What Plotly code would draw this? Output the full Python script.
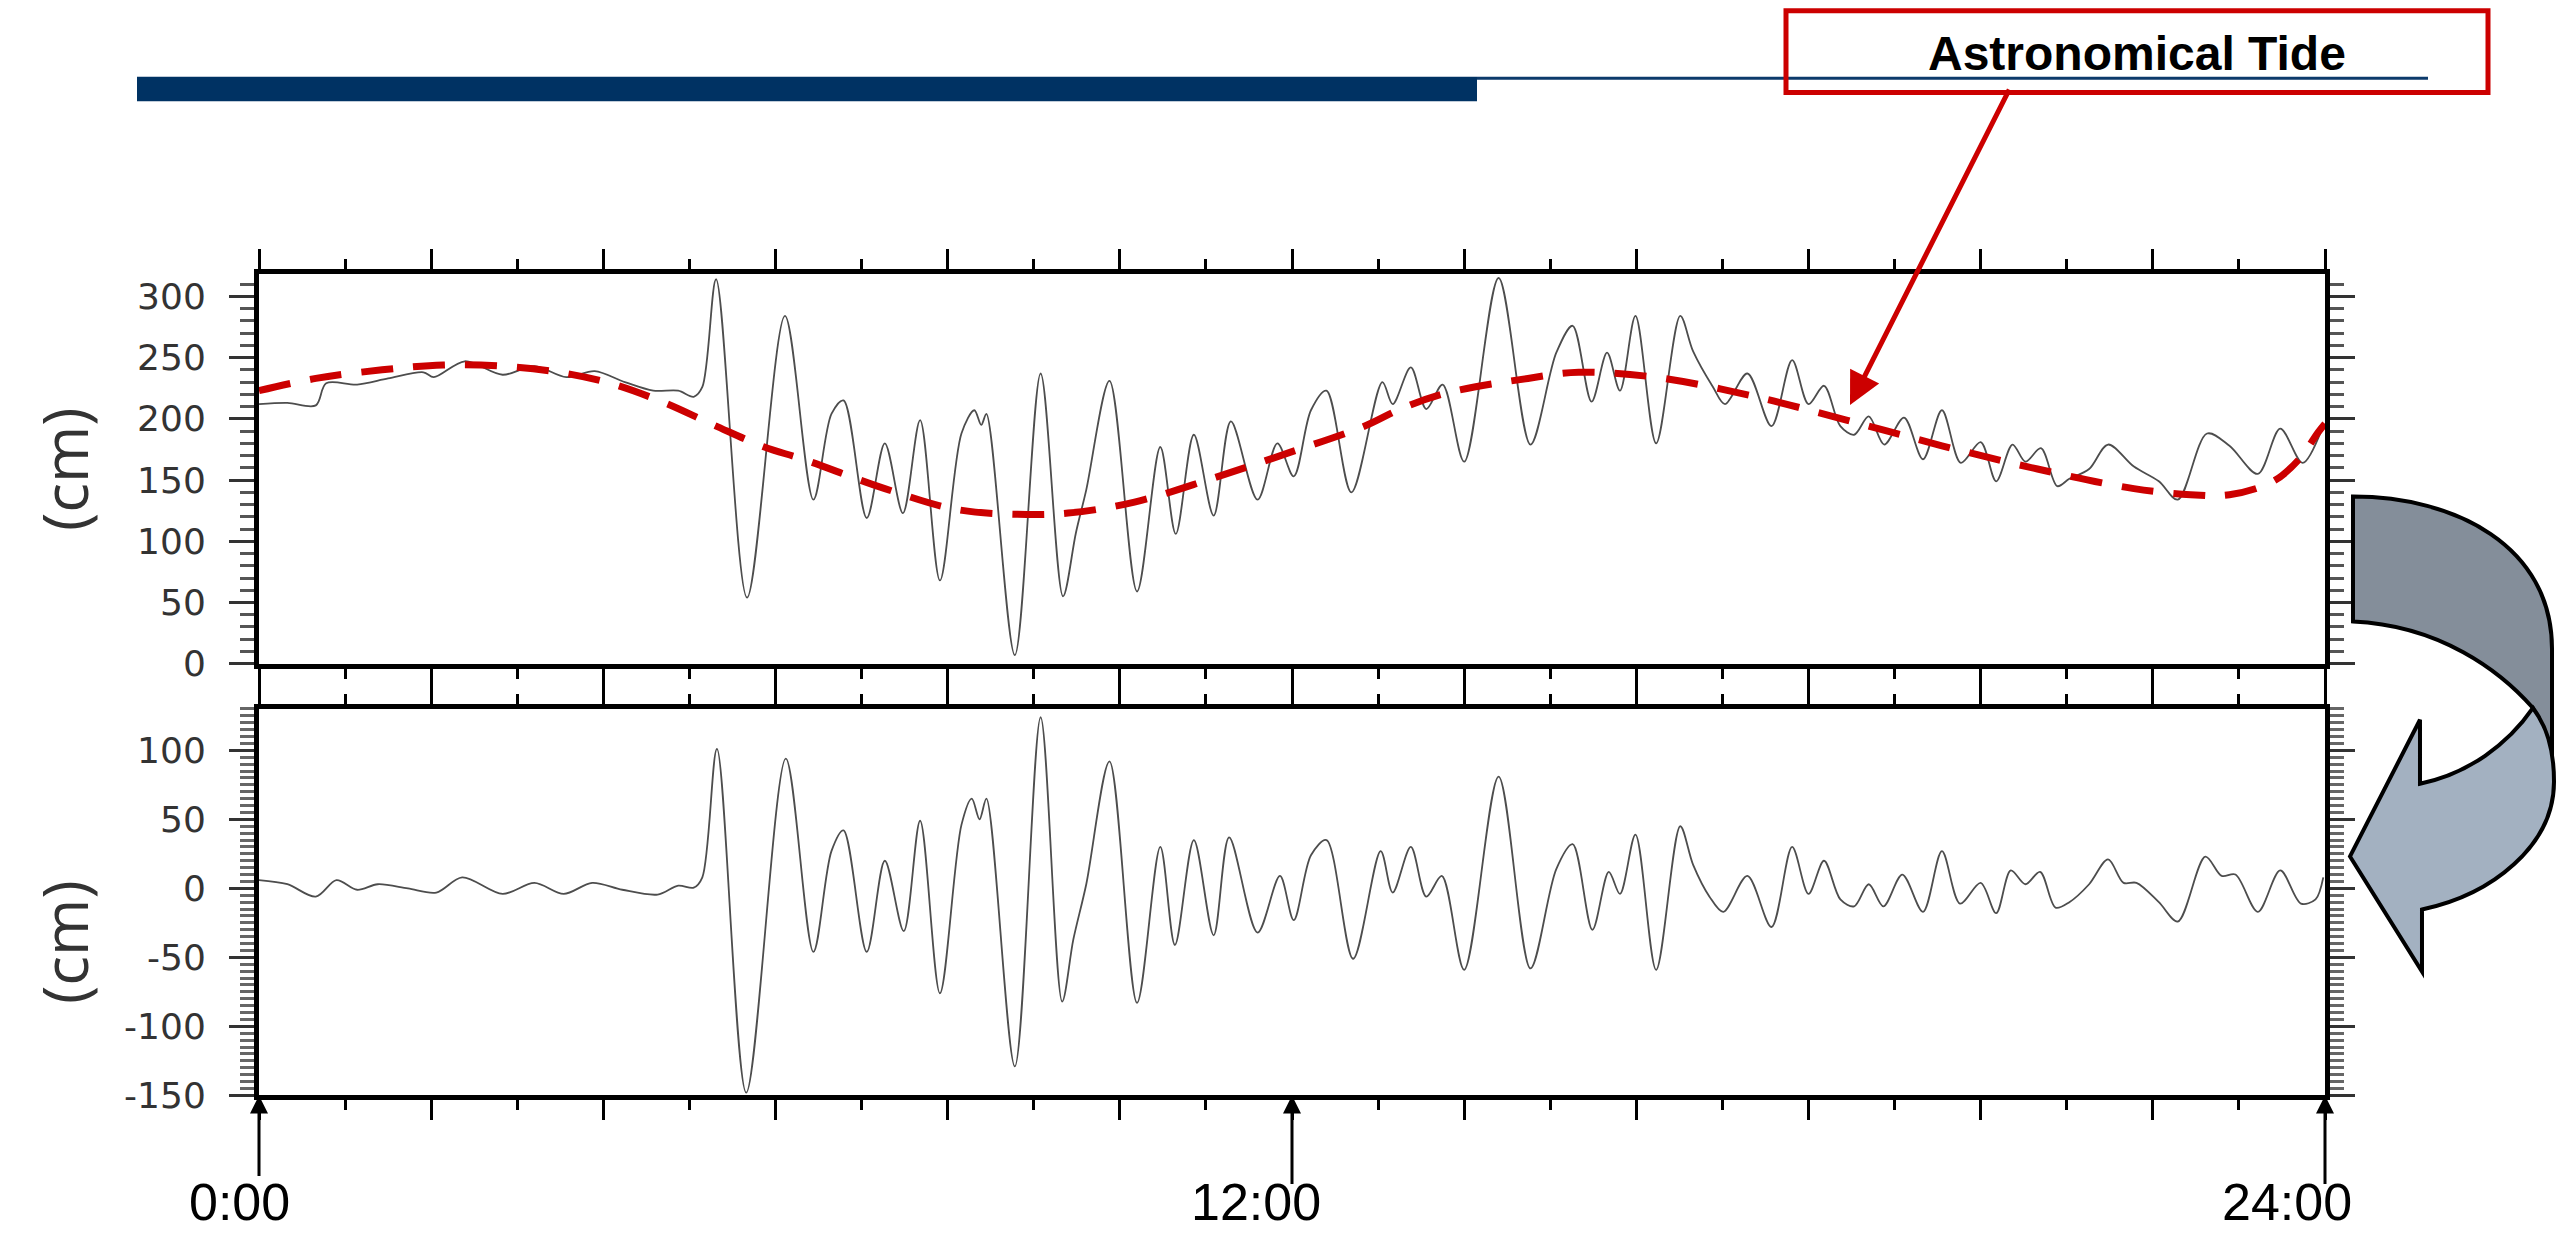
import plotly.graph_objects as go

W, H = 2567, 1257

# ---------------- data (hours since 0:00, cm) ----------------
obs_t = [0.0, 0.33, 0.66, 0.78, 1.14, 1.5, 1.91, 2.03, 2.39, 2.83, 3.2, 3.57, 3.9, 4.25, 4.58, 4.87,
         5.05, 5.15, 5.31, 5.67, 6.11, 6.44, 6.65, 6.79, 7.06, 7.27, 7.48, 7.68, 7.91, 8.16, 8.31,
         8.39, 8.45, 8.78, 9.08, 9.34, 9.49, 9.61, 9.88, 10.2, 10.47, 10.65, 10.86, 11.09, 11.29,
         11.6, 11.83, 12.02, 12.22, 12.4, 12.69, 13.05, 13.17, 13.38, 13.56, 13.75, 14.0, 14.4,
         14.77, 15.07, 15.26, 15.48, 15.66, 15.81, 15.99, 16.23, 16.51, 16.66, 16.89, 17.03, 17.29,
         17.57, 17.81, 18.0, 18.18, 18.37, 18.53, 18.7, 18.88, 19.11, 19.33, 19.55, 19.77, 20.0,
         20.18, 20.37, 20.52, 20.7, 20.89, 21.03, 21.26, 21.48, 21.78, 22.07, 22.29, 22.63, 22.89,
         23.22, 23.48, 23.74, 23.96]
obs_v = [212, 213, 211, 229, 228, 233, 238, 234, 247, 236, 243, 234, 239, 230, 223, 223,
         218, 226, 314, 54, 284, 134, 204, 215, 119, 180, 123, 199, 68, 188, 207,
         195, 204, 7, 237, 55, 107, 142, 231, 59, 177, 106, 187, 121, 198,
         134, 180, 153, 207, 223, 140, 230, 212, 242, 208, 228, 165, 315,
         179, 254, 276, 214, 254, 223, 284, 180, 284, 255, 226, 212, 237,
         194, 248, 212, 227, 194, 187, 202, 179, 201, 167, 207, 164, 181,
         149, 179, 165, 176, 145, 151, 159, 179, 161, 149, 134, 188, 178,
         155, 192, 164, 191]

astro_t = [0.0, 0.66, 1.43, 2.14, 2.84, 3.49, 4.08, 4.68, 5.28, 5.87, 6.32, 7.27, 8.1, 8.81, 9.4,
           10.17, 11.06, 11.95, 12.84, 13.26, 13.79, 14.74, 15.33, 16.22, 17.33, 18.44, 19.55,
           20.66, 21.78, 22.44, 22.89, 23.4, 23.7, 23.92, 24.0]
astro_v = [223, 233, 240, 244, 243, 238, 229, 214, 195, 177, 167, 143, 126, 122, 123,
           132, 151, 172, 194, 208, 221, 233, 238, 234, 219, 199, 178,
           159, 143, 138, 138, 149, 167, 189, 196]

resid_t = [0.0, 0.33, 0.66, 0.9, 1.14, 1.38, 1.73, 2.06, 2.36, 2.83, 3.2, 3.54, 3.87, 4.22, 4.63,
           4.87, 5.05, 5.15, 5.32, 5.66, 6.12, 6.44, 6.65, 6.79, 7.06, 7.27, 7.49, 7.68, 7.91, 8.16,
           8.28, 8.37, 8.45, 8.78, 9.08, 9.33, 9.46, 9.61, 9.88, 10.2, 10.47, 10.64, 10.86, 11.09,
           11.27, 11.6, 11.86, 12.02, 12.22, 12.4, 12.71, 13.03, 13.17, 13.38, 13.56, 13.74, 14.0,
           14.4, 14.77, 15.07, 15.26, 15.49, 15.68, 15.81, 15.99, 16.23, 16.51, 16.66, 16.85, 17.01,
           17.29, 17.57, 17.81, 18.0, 18.18, 18.37, 18.53, 18.7, 18.87, 19.09, 19.33, 19.55, 19.76,
           20.0, 20.18, 20.35, 20.52, 20.69, 20.87, 21.03, 21.26, 21.48, 21.66, 21.81, 22.07, 22.29,
           22.61, 22.8, 22.96, 23.22, 23.48, 23.72, 23.89, 23.98]
resid_v = [6, 3, -6, 6, -1, 3, 0, -3, 8, -4, 4, -4, 4, -1, -4.5,
           2, 0.5, 8, 101, -148, 94, -46, 27, 42, -46, 20, -31, 49, -76, 46,
           65, 50, 65, -129, 124, -82, -37, 3, 92, -83, 30, -41, 35, -34,
           37, -32, 9, -23, 24, 35, -51, 27, -3, 30, -6, 9, -59,
           81, -58, 14, 32, -30, 12, -4, 39, -59, 45, 17, -6, -17,
           9, -28, 30, -4, 20, -8, -13, 3, -13, 10, -17, 27, -11,
           4, -18, 13, 3, 12, -14, -10, 3, 21, 4, 4, -10, -24,
           23, 9, 10, -17, 13, -11, -8, 8]

hour_ticks = list(range(0, 25, 2))
top_ticks = [0, 50, 100, 150, 200, 250, 300]
top_ticktext = ["0", "50", "100", "150", "200", "250", "300"]
bot_ticks = [-150, -100, -50, 0, 50, 100]
bot_ticktext = ["-150", "-100", "-50", "0", "50", "100"]
time_labels = ["0:00", "12:00", "24:00"]
time_label_hours = [0, 12, 24]

# ---------------- helpers (pixel -> paper) ----------------
def px(x):
    return x / W

def py(y):
    return 1 - y / H

def path(cmds):
    out = []
    for c in cmds:
        if isinstance(c, str):
            out.append(c)
        else:
            out.append(f"{px(c[0]):.5f},{py(c[1]):.5f}")
    return " ".join(out)

X0, X1 = 259, 2325
TOP_T, TOP_B = 279, 675
BOT_T, BOT_B = 721, 1114

fig = go.Figure()
fig.add_trace(go.Scatter(x=obs_t, y=obs_v, xaxis="x", yaxis="y", mode="lines",
                         line=dict(color="#4d4d4d", width=1.8, shape="spline", smoothing=0.9),
                         hoverinfo="skip", showlegend=False))
fig.add_trace(go.Scatter(x=astro_t, y=astro_v, xaxis="x", yaxis="y", mode="lines",
                         line=dict(color="#cc0000", width=7, dash="32px,20px", shape="spline"),
                         hoverinfo="skip", showlegend=False))
fig.add_trace(go.Scatter(x=resid_t, y=resid_v, xaxis="x2", yaxis="y2", mode="lines",
                         line=dict(color="#4d4d4d", width=1.8, shape="spline", smoothing=0.9),
                         hoverinfo="skip", showlegend=False))

xcommon = dict(domain=[px(X0), px(X1)], range=[0, 24], tickmode="array", tickvals=hour_ticks,
               ticks="outside", ticklen=20, tickwidth=2.5, tickcolor="black",
               showticklabels=False, showline=True, linewidth=5, linecolor="black",
               mirror="allticks", showgrid=False, zeroline=False,
               minor=dict(dtick=1, tick0=0, ticks="outside", ticklen=10, tickwidth=2.5,
                          tickcolor="black", showgrid=False))
ytickfont = dict(family="DejaVu Sans", size=36, color="#333333")
ycommon = dict(ticks="outside", ticklen=25, tickwidth=2.5, tickcolor="#333333",
               showline=True, linewidth=5, linecolor="black", mirror="allticks",
               showgrid=False, zeroline=False, tickfont=ytickfont, ticklabelstandoff=16)

fig.update_layout(
    width=W, height=H, margin=dict(l=0, r=0, t=0, b=0),
    paper_bgcolor="white", plot_bgcolor="rgba(0,0,0,0)", showlegend=False,
    xaxis=dict(anchor="y", **xcommon),
    xaxis2=dict(anchor="y2", **xcommon),
    yaxis=dict(anchor="x", domain=[py(TOP_B), py(TOP_T)], range=[0, 318], tickmode="array",
               tickvals=top_ticks, ticktext=top_ticktext,
               minor=dict(dtick=10, ticks="outside", ticklen=14, tickwidth=2.5, tickcolor="#555555"),
               **ycommon),
    yaxis2=dict(anchor="x2", domain=[py(BOT_B), py(BOT_T)], range=[-150, 130], tickmode="array",
                tickvals=bot_ticks, ticktext=bot_ticktext,
                minor=dict(dtick=5, ticks="outside", ticklen=14, tickwidth=2.5, tickcolor="#666666"),
                **ycommon),
)

shapes = []
# header bars
shapes.append(dict(type="rect", xref="paper", yref="paper", x0=px(137), x1=px(1477),
                   y0=py(103), y1=py(78), fillcolor="#003263", line=dict(width=0)))
shapes.append(dict(type="line", xref="paper", yref="paper", x0=px(1477), x1=px(2428),
                   y0=py(79.5), y1=py(79.5), line=dict(color="#0c3a6b", width=3)))
# red label box
shapes.append(dict(type="rect", xref="paper", yref="paper", x0=px(1786), x1=px(2488),
                   y0=py(94), y1=py(11), fillcolor="rgba(0,0,0,0)",
                   line=dict(color="#cc0000", width=5)))
# curved arrow (dark upper band)
dark = path(["M", (2353, 505), "C", (2455, 505), (2552, 555), (2552, 660),
             "L", (2552, 800), "L", (2533, 720),
             "C", (2500, 682), (2440, 636), (2353, 632), "Z"])
shapes.append(dict(type="path", xref="paper", yref="paper", path=dark,
                   fillcolor="#848e9a", line=dict(color="black", width=4), layer="above"))
light = path(["M", (2533, 720), "C", (2508, 757), (2468, 787), (2420, 797),
              "L", (2420, 732), "L", (2350, 871), "L", (2422, 988), "L", (2422, 925),
              "C", (2492, 910), (2554, 860), (2554, 795),
              "C", (2554, 760), (2546, 738), (2533, 720), "Z"])
shapes.append(dict(type="path", xref="paper", yref="paper", path=light,
                   fillcolor="#a3b1c1", line=dict(color="black", width=4), layer="above"))
fig.update_layout(shapes=shapes)

ann = []
ann.append(dict(xref="paper", yref="paper", x=px(2137), y=py(54), text="<b>Astronomical Tide</b>",
                showarrow=False, font=dict(family="Liberation Sans, Arial", size=48, color="black"),
                xanchor="center", yanchor="middle"))
# red arrow
ann.append(dict(xref="paper", yref="paper", x=px(1850), y=py(412), text="", showarrow=True,
                ax=160, ay=-317, arrowcolor="#cc0000", arrowwidth=5, arrowhead=2, arrowsize=1.3,
                standoff=0))
# y labels
for yc in (477, 958):
    ann.append(dict(xref="paper", yref="paper", x=px(64), y=py(yc), text="(cm)", textangle=-90,
                    showarrow=False, font=dict(family="Open Sans", size=62, color="#333333"),
                    xanchor="center", yanchor="middle"))
# time arrows + labels
label_dx = {0: -20, 12: -36, 24: -38}
tail_len = {0: 82, 12: 90, 24: 90}
for lab, hr in zip(time_labels, time_label_hours):
    xp = X0 + (X1 - X0) * hr / 24
    ann.append(dict(xref="paper", yref="paper", x=px(xp), y=py(BOT_B), text="", showarrow=True,
                    ax=0, ay=tail_len[hr], arrowcolor="black", arrowwidth=3, arrowhead=2,
                    arrowsize=1.2, standoff=0))
    ann.append(dict(xref="paper", yref="paper", x=px(xp + label_dx[hr]), y=py(1222), text=lab,
                    showarrow=False, borderpad=0,
                    font=dict(family="Liberation Sans, Arial", size=52, color="black"),
                    xanchor="center", yanchor="middle"))
fig.update_layout(annotations=ann)

fig.write_html("out.html")
